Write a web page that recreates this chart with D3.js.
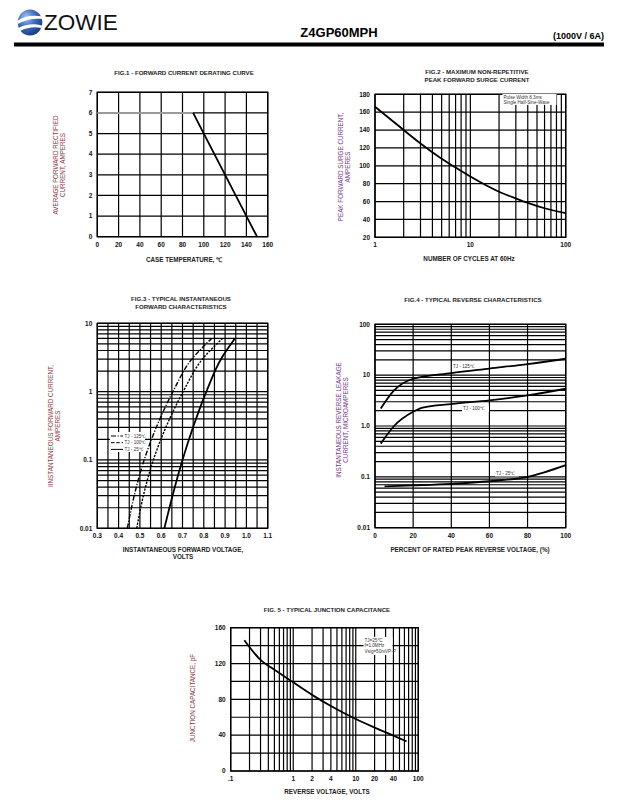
<!DOCTYPE html>
<html><head><meta charset="utf-8">
<script src="https://cdn.jsdelivr.net/npm/d3@7"></script>
<style>body{margin:0;background:#fff}svg{display:block}text{font-family:"Liberation Sans",Arial,sans-serif}</style>
</head><body><svg id="c" width="644" height="803"></svg>
<script>
// ---------- DATA ----------
const fig1XTicks=[0,20,40,60,80,100,120,140,160];
const fig1YTicks=[0,1,2,3,4,5,6,7];
const fig1FlatTemp=[0,90], fig1FlatCurrent=[6,6];
const fig1SlopeTemp=[90,100,120,140,150], fig1SlopeCurrent=[6,5,3,1,0];

const fig2XTicks=[1,10,100];
const fig2YTicks=[20,40,60,80,100,120,140,160,180];
const fig2Cycles=[1,2,3,5,7,10,20,30,40,60,100];
const fig2Current=[166,140,125,108,98,88,71,63.5,58.5,52.5,47];

const fig3XTicks=[0.3,0.4,0.5,0.6,0.7,0.8,0.9,1.0,1.1];
const fig3YTicks=[0.01,0.1,1,10];
const fig3Current=[0.01,0.0316,0.1,0.316,1,3.16,6];
const fig3Tj125V=[0.441,0.475,0.520,0.580,0.655,0.750,0.837];
const fig3Tj100V=[0.485,0.518,0.563,0.625,0.703,0.800,0.888];
const fig3Tj25V=[0.615,0.655,0.700,0.752,0.812,0.885,0.946];

const fig4XTicks=[0,20,40,60,80,100];
const fig4YTicks=[0.01,0.1,1.0,10,100];
const fig4YTickLabels=["0.01","0.1","1.0","10","100"];
const fig4Pct125=[3,10,20,40,60,80,100];
const fig4I125=[2.2,5.0,8.5,11,13.5,16.5,21];
const fig4Pct100=[3,10,20,25,40,60,80,100];
const fig4I100=[0.45,1.0,1.9,2.3,2.7,3.2,4.0,5.4];
const fig4Pct25=[5,20,40,60,80,100];
const fig4I25=[0.065,0.068,0.073,0.082,0.1,0.17];

const fig5XTicks=[0.1,1,2,4,10,20,40,100];
const fig5XTickLabels=[".1","1","2","4","10","20","40","100"];
const fig5YTicks=[0,40,80,120,160];
const fig5Voltage=[0.165,0.3,0.5,1,2,4,10,20,40,65];
const fig5Cap=[146,124,113,99,85,72.5,58,48.5,39.5,33];

// ---------- DRAW ----------
const svg=d3.select("#c");

// header
const defs=svg.append("defs");
const rg=defs.append("radialGradient").attr("id","globe").attr("cx","35%").attr("cy","30%").attr("r","80%");
rg.append("stop").attr("offset","0").attr("stop-color","#a8c8ee");
rg.append("stop").attr("offset","0.45").attr("stop-color","#3f6fc2");
rg.append("stop").attr("offset","1").attr("stop-color","#13307a");
svg.append("ellipse").attr("cx",30).attr("cy",22.5).attr("rx",12.3).attr("ry",13).attr("fill","url(#globe)");
svg.append("path").attr("d","M17.5,21 C24,16 33,15 42.5,16.5 L42.5,19 C34,18 25,19.5 17.8,24 Z").attr("fill","#fff");
svg.append("path").attr("d","M18.5,28 C26,24 34,23.5 42,25.5 L41.5,28 C34,26.5 27,27.5 20,31 Z").attr("fill","#fff");
svg.append("text").attr("x",44).attr("y",30).attr("font-size",22.5).attr("fill","#111").text("ZOWIE");
svg.append("text").attr("x",339).attr("y",37).attr("text-anchor","middle").attr("font-size",13).attr("font-weight","bold").text("Z4GP60MPH");
svg.append("text").attr("x",604).attr("y",39).attr("text-anchor","end").attr("font-size",9).attr("font-weight","bold").text("(1000V / 6A)");
svg.append("rect").attr("x",14).attr("y",42.5).attr("width",590).attr("height",4).attr("fill","#000");

function panel(o){
  const g=svg.append("g");
  const x=o.x, y=o.y;
  const [X0,X1]=x.range(), [Y1,Y0]=y.range();
  g.selectAll(null).data(o.vGrid).enter().append("line")
    .attr("x1",d=>x(d)).attr("x2",d=>x(d)).attr("y1",Y0).attr("y2",Y1)
    .attr("stroke","#000").attr("stroke-width",1.2);
  g.selectAll(null).data(o.hGrid).enter().append("line")
    .attr("x1",X0).attr("x2",X1).attr("y1",d=>y(d)).attr("y2",d=>y(d))
    .attr("stroke","#000").attr("stroke-width",1.2);
  g.append("rect").attr("x",X0).attr("y",Y0).attr("width",X1-X0).attr("height",Y1-Y0)
    .attr("fill","none").attr("stroke","#000").attr("stroke-width",1.4);
  g.selectAll(null).data(o.xTicks).enter().append("text")
    .attr("x",d=>x(d)).attr("y",Y1+10).attr("text-anchor","middle")
    .attr("font-size",6.5).attr("font-weight","bold").attr("fill","#111")
    .text((d,i)=>o.xLabels?o.xLabels[i]:d);
  g.selectAll(null).data(o.yTicks).enter().append("text")
    .attr("x",X0-5).attr("y",d=>y(d)+2.3).attr("text-anchor","end")
    .attr("font-size",6.5).attr("font-weight","bold").attr("fill","#111")
    .text((d,i)=>o.yLabels?o.yLabels[i]:d);
  o.title.forEach((t,i)=>g.append("text").attr("x",o.titleX).attr("y",o.titleY+i*7.5)
    .attr("text-anchor","middle").attr("font-size",6.1).attr("font-weight","bold").attr("fill","#222").text(t));
  o.xTitle.forEach((t,i)=>g.append("text").attr("x",o.xTitleX).attr("y",o.xTitleY+i*7)
    .attr("text-anchor","middle").attr("font-size",6.3).attr("font-weight","bold").attr("fill","#222").text(t));
  o.yTitle.forEach((t,i)=>g.append("text")
    .attr("transform",`translate(${o.yTitleX+i*6.5},${o.yTitleY}) rotate(-90)`)
    .attr("text-anchor","middle").attr("font-size",6.3).attr("fill",o.yColor).text(t));
  return g;
}
function curve(g,x,y,xs,ys,opt={}){
  const pts=xs.map((v,i)=>[x(v),y(ys[i])]);
  const c=opt.linear?d3.curveLinear:(opt.monoY?d3.curveMonotoneY:d3.curveMonotoneX);
  g.append("path").attr("d",d3.line().curve(c)(pts))
    .attr("fill","none").attr("stroke",opt.color||"#000").attr("stroke-width",opt.w||1.8)
    .attr("stroke-dasharray",opt.dash||null);
}
function note(g,x,y,lines,w,h,size){
  g.append("rect").attr("x",x-1).attr("y",y-size).attr("width",w).attr("height",h).attr("fill","#fff");
  lines.forEach((t,i)=>g.append("text").attr("x",x).attr("y",y+i*(size+1.2))
    .attr("font-size",size).attr("fill","#333").text(t));
}

// FIG 1
{
  const x=d3.scaleLinear().domain([0,160]).range([97.3,267.7]);
  const y=d3.scaleLinear().domain([0,7]).range([236.7,92.3]);
  const g=panel({x,y,vGrid:fig1XTicks,hGrid:fig1YTicks,xTicks:fig1XTicks,yTicks:fig1YTicks,
    title:["FIG.1 - FORWARD CURRENT DERATING CURVE"],titleX:184,titleY:75,
    xTitle:["CASE TEMPERATURE, \u2103"],xTitleX:184,xTitleY:262,
    yTitle:["AVERAGE FORWARD RECTIFIED","CURRENT, AMPERES"],yTitleX:58,yTitleY:165,yColor:"#8a3345"});
  curve(g,x,y,fig1FlatTemp,fig1FlatCurrent,{linear:true,color:"#9a9a9a",w:2});
  curve(g,x,y,fig1SlopeTemp,fig1SlopeCurrent,{linear:true,w:1.8});
}
// FIG 2
{
  const x=d3.scaleLog().domain([1,100]).range([375,565.7]);
  const y=d3.scaleLinear().domain([20,180]).range([237.3,94.3]);
  const g=panel({x,y,vGrid:x.ticks(),hGrid:fig2YTicks,xTicks:fig2XTicks,yTicks:fig2YTicks,
    title:["FIG.2 - MAXIMUM NON-REPETITIVE","PEAK FORWARD SURGE CURRENT"],titleX:477,titleY:74,
    xTitle:["NUMBER OF CYCLES AT 60Hz"],xTitleX:469,xTitleY:261,
    yTitle:["PEAK FORWARD SURGE CURRENT,","AMPERES"],yTitleX:343,yTitleY:167,yColor:"#74388a"});
  note(g,503.5,98.5,["Pulse Width 8.3ms","Single Half-Sine-Wave"],54,11,4.6);
  curve(g,x,y,fig2Cycles,fig2Current);
}
// FIG 3
{
  const x=d3.scaleLinear().domain([0.3,1.1]).range([97.3,267.7]);
  const y=d3.scaleLog().domain([0.01,10]).range([528.3,323.3]);
  const g=panel({x,y,vGrid:d3.range(17).map(i=>0.3+i*0.05),hGrid:y.ticks(),xTicks:fig3XTicks,
    xLabels:fig3XTicks.map(d=>d3.format(".1f")(d)),yTicks:fig3YTicks,yLabels:["0.01","0.1","1","10"],
    title:["FIG.3 - TYPICAL INSTANTANEOUS","FORWARD CHARACTERISTICS"],titleX:181,titleY:301,
    xTitle:["INSTANTANEOUS FORWARD VOLTAGE,","VOLTS"],xTitleX:183,xTitleY:552,
    yTitle:["IINSTANTANEOUS FORWARD CURRENT,","AMPERES"],yTitleX:53,yTitleY:426,yColor:"#8a3a45"});
  curve(g,x,y,fig3Tj125V,fig3Current,{dash:"5,1.6,1.2,1.6",w:1.4,monoY:true});
  curve(g,x,y,fig3Tj100V,fig3Current,{dash:"2.2,1.3",w:1.4,monoY:true});
  curve(g,x,y,fig3Tj25V,fig3Current,{w:1.8,monoY:true});
  const lg=g.append("g");
  lg.append("rect").attr("x",110).attr("y",432).attr("width",35).attr("height",20).attr("fill","#fff");
  [["5,1.6,1.2,1.6","TJ - 125\u2103"],["3.5,1.8","TJ - 100\u2103"],[null,"TJ - 25\u2103"]].forEach((d,i)=>{
    const yy=436+i*6.7;
    lg.append("line").attr("x1",111).attr("x2",123).attr("y1",yy).attr("y2",yy).attr("stroke","#000")
      .attr("stroke-width",1).attr("stroke-dasharray",d[0]);
    lg.append("text").attr("x",124.5).attr("y",yy+1.7).attr("font-size",4.6).attr("fill","#333").text(d[1]);
  });
}
// FIG 4
{
  const x=d3.scaleLinear().domain([0,100]).range([375,565.7]);
  const y=d3.scaleLog().domain([0.01,100]).range([527.7,324.3]);
  const g=panel({x,y,vGrid:fig4XTicks,hGrid:y.ticks(),xTicks:fig4XTicks,yTicks:fig4YTicks,yLabels:fig4YTickLabels,
    title:["FIG.4 - TYPICAL REVERSE CHARACTERISTICS"],titleX:473,titleY:302,
    xTitle:["PERCENT OF RATED PEAK REVERSE VOLTAGE, (%)"],xTitleX:470,xTitleY:552,
    yTitle:["INSTANTANEOUS REVERSE LEAKAGE","CURRENT, MICROAMPERES"],yTitleX:341,yTitleY:420,yColor:"#74388a"});
  note(g,453,368,["TJ - 125\u2103"],27,6.5,4.6);
  note(g,463,410,["TJ - 100\u2103"],27,6.5,4.6);
  note(g,496,474.5,["TJ - 25\u2103"],24,6.5,4.6);
  curve(g,x,y,fig4Pct125,fig4I125);
  curve(g,x,y,fig4Pct100,fig4I100);
  curve(g,x,y,fig4Pct25,fig4I25);
}
// FIG 5
{
  const x=d3.scaleLog().domain([0.1,100]).range([230.7,418.3]);
  const y=d3.scaleLinear().domain([0,160]).range([771,627.7]);
  const g=panel({x,y,vGrid:x.ticks(),hGrid:d3.range(9).map(i=>i*20),xTicks:fig5XTicks,xLabels:fig5XTickLabels,
    yTicks:fig5YTicks,
    title:["FIG. 5 - TYPICAL JUNCTION CAPACITANCE"],titleX:327,titleY:612,
    xTitle:["REVERSE VOLTAGE, VOLTS"],xTitleX:327,xTitleY:794,
    yTitle:["JUNCTION CAPACITANCE, pF"],yTitleX:195,yTitleY:698,yColor:"#8a3a45"});
  note(g,364.5,641.5,["TJ=25\u00b0C","f=1.0MHz","Vsig=50mVP-P"],29,18,4.6);
  curve(g,x,y,fig5Voltage,fig5Cap);
}
</script></body></html>
